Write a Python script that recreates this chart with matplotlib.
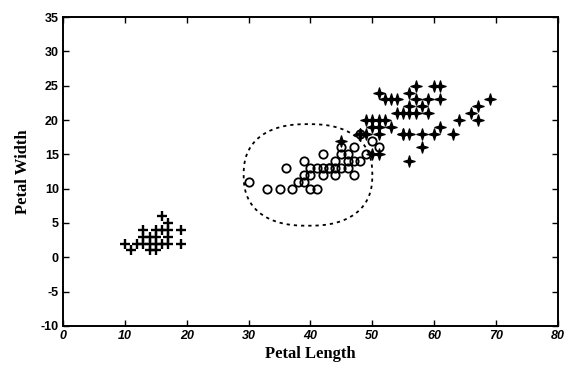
import numpy as np
import matplotlib
matplotlib.use("Agg")
import matplotlib.pyplot as plt
from matplotlib.path import Path

# iris petal measurements (mm), one entry per distinct point seen on the plot
setosa_len = [14, 13, 15, 17, 14, 15, 16, 14, 11, 12, 15, 13, 17, 15, 17, 10, 17, 19, 16, 13, 16, 19]
setosa_wid = [2, 2, 2, 4, 3, 1, 2, 1, 1, 2, 4, 4, 3, 3, 2, 2, 5, 2, 4, 3, 6, 4]

versi_len = [47, 45, 49, 40, 46, 45, 47, 33, 46, 39, 35, 42, 40, 36, 44, 41, 39, 48, 47, 43,
             48, 50, 38, 37, 39, 51, 45, 44, 41, 44, 46, 40, 42, 42, 30, 43]
versi_wid = [14, 15, 15, 13, 15, 13, 16, 10, 13, 14, 10, 15, 10, 13, 14, 10, 11, 18, 12, 13,
             14, 17, 11, 10, 12, 16, 16, 13, 13, 12, 14, 12, 13, 12, 11, 13]

virg_len = [60, 51, 59, 56, 58, 66, 45, 63, 58, 61, 51, 53, 55, 50, 51, 53, 55, 67, 69, 50,
            57, 49, 67, 49, 57, 60, 48, 56, 58, 61, 64, 56, 51, 56, 61, 56, 55, 48, 54, 59,
            57, 52, 50, 52, 54, 51]
virg_wid = [25, 19, 21, 18, 22, 21, 17, 18, 18, 25, 20, 19, 21, 20, 24, 23, 18, 22, 23, 15,
            23, 20, 20, 18, 21, 18, 18, 21, 16, 19, 20, 22, 15, 14, 23, 24, 18, 18, 21, 23,
            25, 23, 19, 20, 23, 18]

xticks = [0, 10, 20, 30, 40, 50, 60, 70, 80]
yticks = [-10, -5, 0, 5, 10, 15, 20, 25, 30, 35]

# decision boundary around versicolor (rounded superellipse)
bx, by = 39.6, 12.0
ba, bb = 10.4, 7.4
bp = 2.4

plt.rcParams['font.family'] = ['Liberation Sans', 'DejaVu Sans']

# four pointed star, like the blotchy '*' in the scan
r_in = 0.32
star_pts = []
for k in range(8):
    ang = np.pi / 2 + k * np.pi / 4
    r = 1.0 if k % 2 == 0 else r_in
    star_pts.append((r * np.cos(ang), r * np.sin(ang)))
star_pts.append(star_pts[0])
star = Path(star_pts, closed=True)

fig = plt.figure(figsize=(5.65, 3.70), dpi=100)
ax = fig.add_axes([0.1115, 0.119, 0.876, 0.835])

ax.plot(setosa_len, setosa_wid, '+', color='black', ms=7.5, mew=1.7)
ax.plot(versi_len, versi_wid, 'o', mfc='none', mec='black', ms=6, mew=1.3)
ax.plot(virg_len, virg_wid, marker=star, ls='none', color='black', ms=8)

t = np.linspace(0, 2 * np.pi, 400)
c, s = np.cos(t), np.sin(t)
cx = bx + ba * np.sign(c) * np.abs(c) ** (2 / bp)
cy = by + bb * np.sign(s) * np.abs(s) ** (2 / bp)
ax.plot(cx, cy, color='black', lw=1.3, ls=(0, (1.8, 2.2)))

ax.set_xlim(0, 80)
ax.set_ylim(-10, 35)
ax.set_xticks(xticks)
ax.set_yticks(yticks)
ax.set_xticklabels([str(v) for v in xticks], fontweight='bold', fontstyle='italic', fontsize=9)
ax.set_yticklabels([str(v) for v in yticks], fontweight='bold', fontsize=9)
ax.tick_params(direction='in', length=4, width=1, top=True, right=True, pad=3)
for sp in ax.spines.values():
    sp.set_linewidth(1.4)

ax.set_xlabel('Petal Length', family='Liberation Serif', fontweight='bold', fontsize=12, labelpad=3)
ax.set_ylabel('Petal Width', family='Liberation Serif', fontweight='bold', fontsize=12, labelpad=7)

fig.savefig('out.png', dpi=100)
